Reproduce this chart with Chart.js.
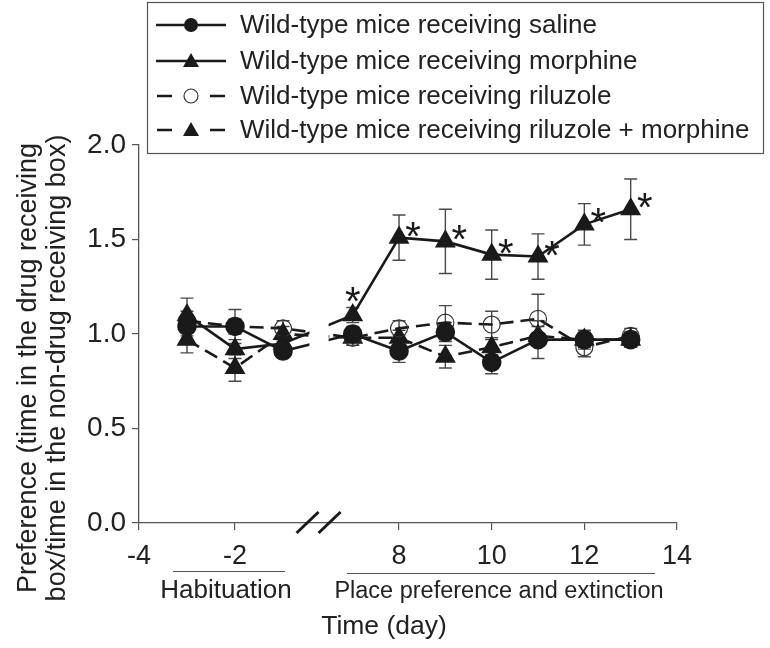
<!DOCTYPE html>
<html>
<head>
<meta charset="utf-8">
<script src="https://cdn.jsdelivr.net/npm/chart.js@4.4.1/dist/chart.umd.min.js"></script>
<style>
  html, body { margin: 0; padding: 0; background: #fff; }
  canvas { display: block; }
</style>
</head>
<body>
<canvas id="chart" width="770" height="648"></canvas>
<script>
// days of the experiment (habituation, then place preference / extinction)
const days = [-3, -2, -1, 7, 8, 9, 10, 11, 12, 13];

const saline = [1.04, 1.04, 0.91, 1.0, 0.91, 1.01, 0.85, 0.97, 0.97, 0.97];
const salineSem = [0.05, 0.09, 0.03, 0.04, 0.06, 0.05, 0.06, 0.1, 0.05, 0.04];

const morphine = [1.1, 0.92, 0.95, 1.1, 1.51, 1.49, 1.42, 1.41, 1.58, 1.66];
const morphineSem = [0.09, 0.05, 0.03, 0.04, 0.12, 0.17, 0.13, 0.12, 0.11, 0.16];

const riluzole = [1.07, 1.04, 1.03, 0.98, 1.03, 1.06, 1.05, 1.08, 0.93, 0.99];
const riluzoleSem = [0.05, 0.04, 0.04, 0.04, 0.04, 0.09, 0.07, 0.13, 0.05, 0.04];

const riluzoleMorphine = [0.97, 0.82, 1.0, 0.98, 0.98, 0.88, 0.93, 0.99, 0.97, 0.97];
const riluzoleMorphineSem = [0.07, 0.07, 0.04, 0.04, 0.04, 0.06, 0.04, 0.05, 0.04, 0.04];

// days marked with * (morphine vs saline)
const starDays = [7, 8, 9, 10, 11, 12, 13];

const tickDays = [-4, -2, 8, 10, 12, 14];
const tickLabels = ["-4", "-2", "8", "10", "12", "14"];

const seriesNames = [
  "Wild-type mice receiving saline",
  "Wild-type mice receiving morphine",
  "Wild-type mice receiving riluzole",
  "Wild-type mice receiving riluzole + morphine",
];

const FONT = "'Liberation Sans', Arial, sans-serif";
const INK = "#1a1a1a";

// broken x axis: habituation days keep their value, later days are pulled left
const toAxis = (d) => (d <= 0 ? d : 1.417 + (d - 8) * 0.965);

const points = (vals) => days.map((d, i) => ({ x: toAxis(d), y: vals[i] }));

const datasets = [
  {
    label: seriesNames[0],
    data: points(saline),
    sem: salineSem,
    borderColor: INK,
    backgroundColor: INK,
    borderWidth: 2.6,
    pointStyle: "circle",
    pointRadius: 8.5,
    pointBackgroundColor: INK,
    pointBorderColor: INK,
  },
  {
    label: seriesNames[1],
    data: points(morphine),
    sem: morphineSem,
    borderColor: INK,
    backgroundColor: INK,
    borderWidth: 2.6,
    pointStyle: "triangle",
    pointRadius: 9.5,
    pointBackgroundColor: INK,
    pointBorderColor: INK,
  },
  {
    label: seriesNames[2],
    data: points(riluzole),
    sem: riluzoleSem,
    borderColor: INK,
    backgroundColor: "rgba(0,0,0,0)",
    borderWidth: 2.6,
    borderDash: [14, 7],
    pointStyle: "circle",
    pointRadius: 8.5,
    pointBorderWidth: 1.2,
    pointBackgroundColor: "rgba(0,0,0,0)",
    pointBorderColor: "#333",
  },
  {
    label: seriesNames[3],
    data: points(riluzoleMorphine),
    sem: riluzoleMorphineSem,
    borderColor: INK,
    backgroundColor: INK,
    borderWidth: 2.6,
    borderDash: [14, 7],
    pointStyle: "triangle",
    pointRadius: 9.5,
    pointBackgroundColor: INK,
    pointBorderColor: INK,
  },
];

const drawMarker = (ctx, style, x, y, filled) => {
  ctx.save();
  ctx.setLineDash([]);
  ctx.beginPath();
  if (style === "circle") {
    ctx.arc(x, y, 7, 0, Math.PI * 2);
  } else {
    ctx.moveTo(x, y - 8);
    ctx.lineTo(x + 8, y + 6);
    ctx.lineTo(x - 8, y + 6);
    ctx.closePath();
  }
  if (filled) {
    ctx.fillStyle = INK;
    ctx.fill();
  } else {
    ctx.strokeStyle = "#333";
    ctx.lineWidth = 1.2;
    ctx.stroke();
  }
  ctx.restore();
};

const extras = {
  id: "extras",
  beforeDatasetsDraw(chart) {
    // error bars
    const { ctx, scales } = chart;
    ctx.save();
    ctx.strokeStyle = "#4a4a4a";
    ctx.lineWidth = 1.4;
    chart.data.datasets.forEach((ds) => {
      ds.data.forEach((p, i) => {
        const px = scales.x.getPixelForValue(p.x);
        const top = scales.y.getPixelForValue(p.y + ds.sem[i]);
        const bot = scales.y.getPixelForValue(p.y - ds.sem[i]);
        ctx.beginPath();
        ctx.moveTo(px, top);
        ctx.lineTo(px, bot);
        ctx.moveTo(px - 6.5, top);
        ctx.lineTo(px + 6.5, top);
        ctx.moveTo(px - 6.5, bot);
        ctx.lineTo(px + 6.5, bot);
        ctx.stroke();
      });
    });
    ctx.restore();
  },
  afterDatasetsDraw(chart) {
    const { ctx, scales, chartArea } = chart;
    // gap in the lines at the axis break
    const g0 = scales.x.getPixelForValue(-0.45);
    const g1 = scales.x.getPixelForValue(-0.05);
    ctx.save();
    ctx.fillStyle = "#fff";
    ctx.fillRect(g0, chartArea.top, g1 - g0, chartArea.bottom - chartArea.top - 2);

    // significance stars
    ctx.fillStyle = INK;
    ctx.font = "40px " + FONT;
    ctx.textAlign = "center";
    ctx.textBaseline = "alphabetic";
    starDays.forEach((d) => {
      const i = days.indexOf(d);
      const px = scales.x.getPixelForValue(toAxis(d));
      const py = scales.y.getPixelForValue(morphine[i]);
      if (d === 7) ctx.fillText("*", px, py);
      else ctx.fillText("*", px + 14, py + 12);
    });
    ctx.restore();
  },
  afterDraw(chart) {
    const { ctx, scales, chartArea } = chart;
    ctx.save();
    ctx.fillStyle = "#222";
    ctx.strokeStyle = "#333";

    // axis break marks
    const bx = scales.x.getPixelForValue(-0.26);
    const by = chartArea.bottom;
    ctx.lineWidth = 3;
    ctx.strokeStyle = INK;
    [-11, 11].forEach((o) => {
      ctx.beginPath();
      ctx.moveTo(bx + o - 11, by + 10);
      ctx.lineTo(bx + o + 11, by - 11);
      ctx.stroke();
    });

    // y title
    ctx.font = "27px " + FONT;
    ctx.textAlign = "center";
    ctx.textBaseline = "middle";
    ctx.save();
    ctx.translate(29, 368);
    ctx.rotate(-Math.PI / 2);
    ctx.fillText("Preference (time in the drug receiving", 0, 0);
    ctx.fillText("box/time in the non-drug receiving box)", 0, 29);
    ctx.restore();

    // period labels under the x axis
    ctx.strokeStyle = "#555";
    ctx.lineWidth = 1.2;
    ctx.beginPath();
    ctx.moveTo(173, 571.5);
    ctx.lineTo(285, 571.5);
    ctx.moveTo(347, 573.5);
    ctx.lineTo(655, 573.5);
    ctx.stroke();
    ctx.font = "26px " + FONT;
    ctx.fillText("Habituation", 226, 591);
    ctx.font = "23.5px " + FONT;
    ctx.fillText("Place preference and extinction", 499, 592);
    ctx.font = "26.5px " + FONT;
    ctx.fillText("Time (day)", 384, 627);

    // legend
    ctx.fillStyle = "#fff";
    ctx.fillRect(147.5, 2.5, 616, 151);
    ctx.strokeStyle = "#555";
    ctx.lineWidth = 1.2;
    ctx.strokeRect(147.5, 2.5, 616, 151);
    const rows = [25, 61, 96, 130];
    chart.data.datasets.forEach((ds, i) => {
      const y = rows[i];
      ctx.strokeStyle = INK;
      ctx.lineWidth = 2.6;
      ctx.beginPath();
      if (ds.borderDash) {
        ctx.moveTo(157, y);
        ctx.lineTo(172, y);
        ctx.moveTo(210, y);
        ctx.lineTo(225, y);
      } else {
        ctx.moveTo(156, y);
        ctx.lineTo(226, y);
      }
      ctx.stroke();
      drawMarker(ctx, ds.pointStyle, 191, y, ds.pointBackgroundColor === INK);
      ctx.fillStyle = "#222";
      ctx.font = "26px " + FONT;
      ctx.textAlign = "left";
      ctx.fillText(ds.label, 240, y + 1);
    });
    ctx.restore();
  },
};

new Chart(document.getElementById("chart"), {
  type: "line",
  data: { datasets: datasets },
  options: {
    responsive: false,
    animation: false,
    devicePixelRatio: 1,
    layout: { padding: { top: 145, right: 93, left: 0, bottom: 0 } },
    plugins: { legend: { display: false }, tooltip: { enabled: false } },
    scales: {
      x: {
        type: "linear",
        min: -4,
        max: toAxis(14),
        afterFit: (s) => { s.height = 125; },
        afterBuildTicks: (s) => {
          s.ticks = tickDays.map((d) => ({ value: toAxis(d) }));
        },
        grid: { drawOnChartArea: false, tickLength: 7, color: "#555", lineWidth: 1.2 },
        border: { color: "#555", width: 1.3 },
        ticks: {
          autoSkip: false,
          maxRotation: 0,
          padding: 10,
          color: "#222",
          font: { family: FONT, size: 27 },
          callback: (v, i) => tickLabels[i],
        },
      },
      y: {
        min: 0,
        max: 2,
        afterFit: (s) => { s.width = 139; },
        grid: { drawOnChartArea: false, tickLength: 7, color: "#555", lineWidth: 1.2 },
        border: { color: "#555", width: 1.3 },
        ticks: {
          stepSize: 0.5,
          padding: 6,
          color: "#222",
          font: { family: FONT, size: 28 },
          callback: (v) => v.toFixed(1),
        },
      },
    },
  },
  plugins: [extras],
});
</script>
</body>
</html>
